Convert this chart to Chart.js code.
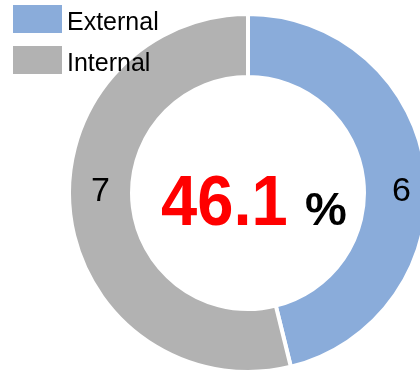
<!DOCTYPE html>
<html>
<head>
<meta charset="utf-8">
<script src="https://cdn.jsdelivr.net/npm/chart.js@4"></script>
<style>
  html, body { margin: 0; padding: 0; width: 420px; height: 373px; overflow: hidden; background: #fff; }
  #wrap { position: absolute; left: 67px; top: 12px; width: 362px; height: 362px; }
  #legend { position: absolute; left: 13px; top: 5px; font-family: "Liberation Sans", Arial, sans-serif; font-size: 25px; color: #000; z-index: 2; }
  .item { position: relative; height: 41px; }
  .box { position: absolute; left: 0; top: 0; width: 49px; height: 28px; }
  .lbl { position: absolute; left: 54px; top: 2px; line-height: 28px; white-space: nowrap; }
</style>
</head>
<body>
<div id="wrap"><canvas id="chart" width="362" height="362"></canvas></div>
<div id="legend"></div>
<script>
const labels = ['External', 'Internal'];
const values = [6, 7];
const colors = ['#8aacda', '#b2b2b2'];
const centerValue = '46.1';
const centerUnit = '%';

// html legend over the chart
const legend = document.getElementById('legend');
labels.forEach((name, i) => {
    const item = document.createElement('div');
    item.className = 'item';
    item.innerHTML = '<div class="box" style="background:' + colors[i] + '"></div><div class="lbl">' + name + '</div>';
    legend.appendChild(item);
});

const ringLabels = {
    id: 'ringLabels',
    afterDatasetsDraw(chart) {
        const ctx = chart.ctx;
        const meta = chart.getDatasetMeta(0);
        ctx.save();
        ctx.fillStyle = '#000';
        ctx.font = '34px "Liberation Sans", Arial, sans-serif';
        ctx.textAlign = 'center';
        ctx.textBaseline = 'middle';
        meta.data.forEach((arc, i) => {
            const p = arc.getProps(['x', 'y', 'startAngle', 'endAngle', 'innerRadius', 'outerRadius'], true);
            const mid = (p.startAngle + p.endAngle) / 2;
            const side = Math.cos(mid) >= 0 ? 1 : -1;
            const r = (p.innerRadius + p.outerRadius) / 2;
            ctx.fillText(String(values[i]), p.x + side * (r + (side > 0 ? 6 : 0)), p.y - 1);
        });
        ctx.restore();
    }
};

const centerText = {
    id: 'centerText',
    afterDraw(chart) {
        const ctx = chart.ctx;
        const meta = chart.getDatasetMeta(0);
        const cx = meta.data[0].x;
        const cy = meta.data[0].y;
        ctx.save();
        ctx.textBaseline = 'alphabetic';
        ctx.textAlign = 'left';
        // number is a bit narrower in the original
        ctx.translate(cx - 87, cy + 32);
        ctx.scale(0.93, 1);
        ctx.font = 'bold 70px "Liberation Sans", Arial, sans-serif';
        ctx.fillStyle = '#ff0000';
        ctx.fillText(centerValue, 0, 0);
        ctx.restore();
        ctx.save();
        ctx.font = 'bold 47px "Liberation Sans", Arial, sans-serif';
        ctx.fillStyle = '#000';
        ctx.fillText(centerUnit, cx + 57, cy + 32);
        ctx.restore();
    }
};

new Chart(document.getElementById('chart'), {
    type: 'doughnut',
    data: {
        labels: labels,
        datasets: [{
            data: values,
            backgroundColor: colors,
            borderColor: '#ffffff',
            borderWidth: 4
        }]
    },
    options: {
        responsive: false,
        animation: false,
        cutout: '64.8%',
        layout: { padding: 0 },
        plugins: {
            legend: { display: false },
            tooltip: { enabled: false }
        }
    },
    plugins: [ringLabels, centerText]
});
</script>
</body>
</html>
